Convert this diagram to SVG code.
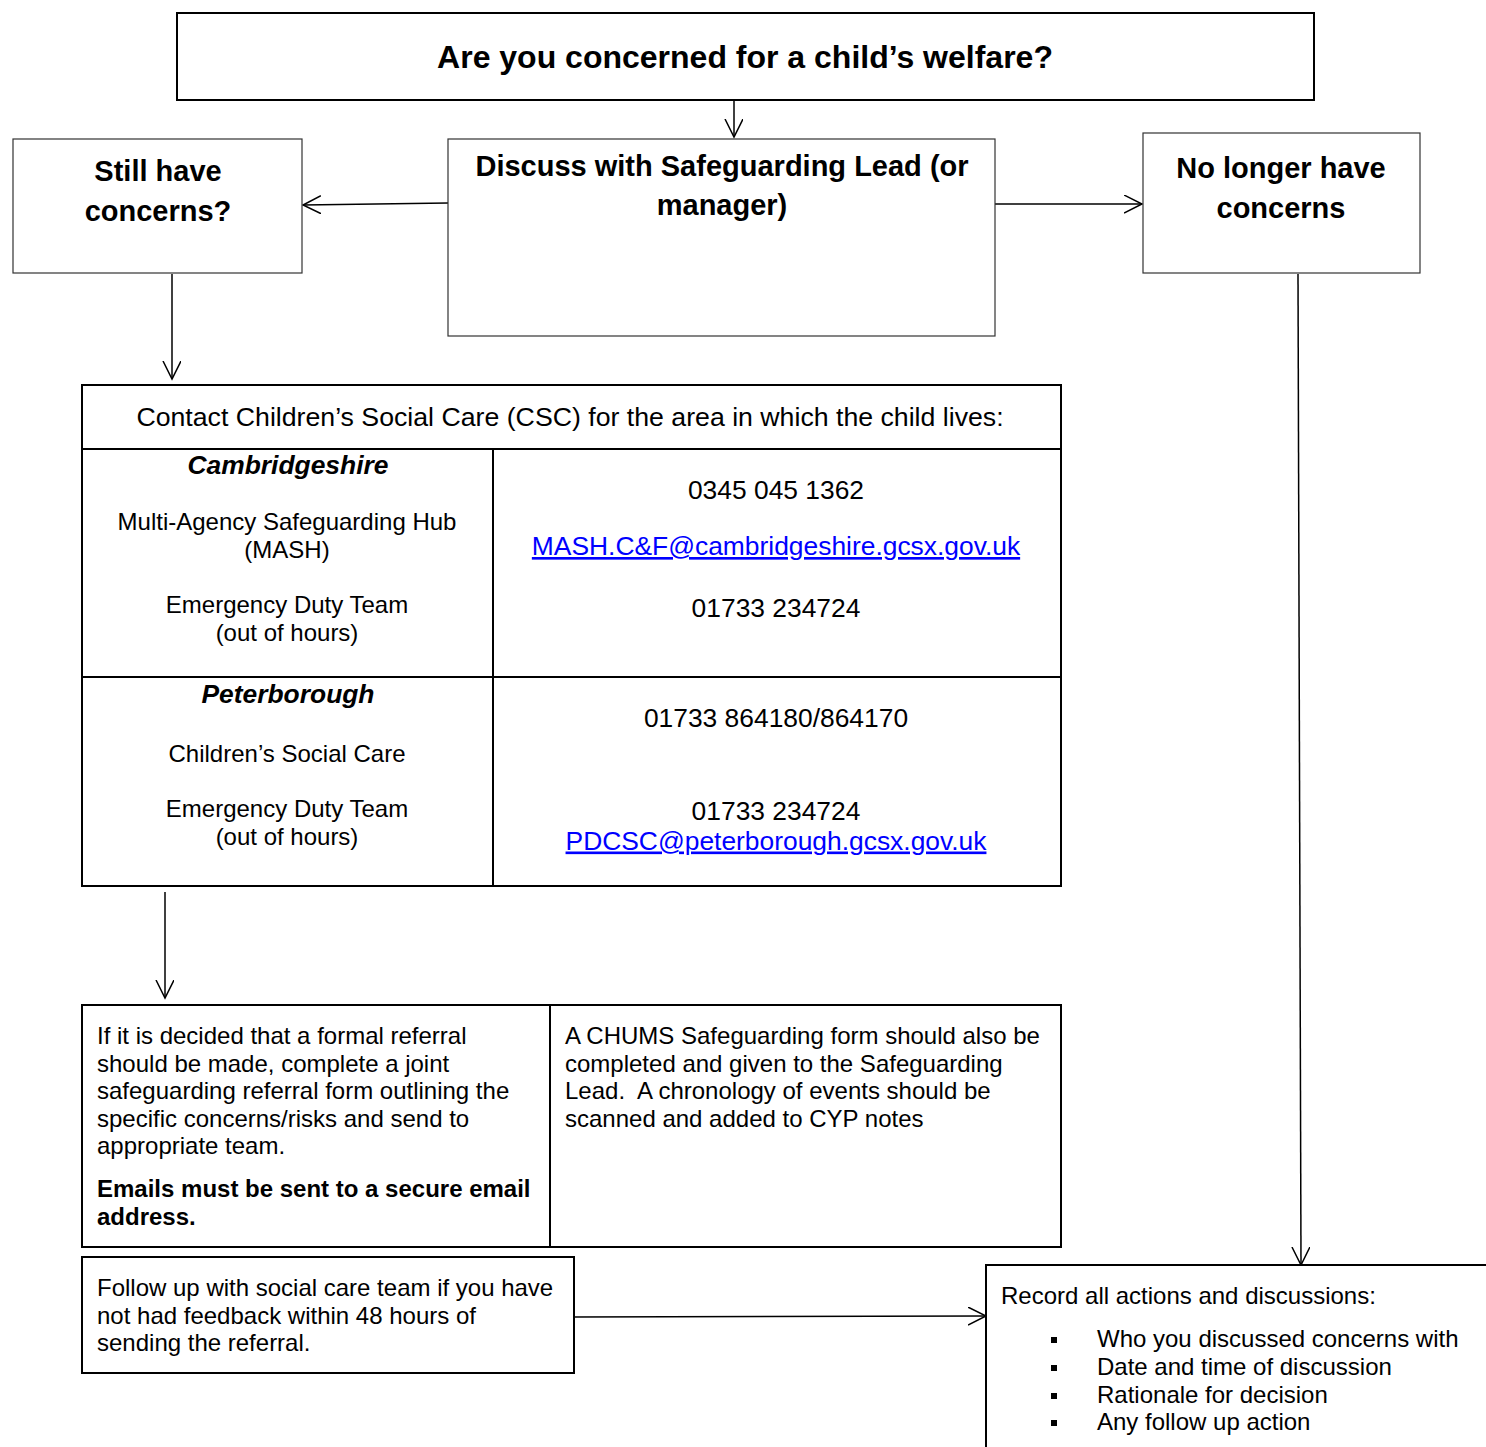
<svg xmlns="http://www.w3.org/2000/svg" width="1486" height="1447" viewBox="0 0 1486 1447">
<style>
text{font-family:"Liberation Sans",Arial,sans-serif;fill:#000}
.t{font-size:32px;font-weight:bold}
.h{font-size:29px;font-weight:bold}
.m{font-size:26.4px}
.hd{font-size:26.7px}
.s{font-size:24px}
.c{text-anchor:middle}
.bi{font-weight:bold;font-style:italic}
.b{font-weight:bold}
.pre{white-space:pre}
.lnk{fill:#0000FF;text-decoration:underline}
.box2{fill:#fff;stroke:#000;stroke-width:2}
.box1{fill:#fff;stroke:#333;stroke-width:1.2}
.ln{stroke:#000;stroke-width:2;fill:none}
.con{stroke:#000;stroke-width:1.5;fill:none;marker-end:url(#arr)}
</style>
<defs>
<marker id="arr" viewBox="0 0 20 20" refX="18" refY="9" markerWidth="20" markerHeight="20" markerUnits="userSpaceOnUse" orient="auto">
<path d="M0,0 L18,9 L0,18" fill="none" stroke="#000" stroke-width="1.5"/>
</marker>
</defs>
<rect width="1486" height="1447" fill="#fff"/>

<g id="connectors">
<line class="con" x1="734" y1="101" x2="734" y2="137"/>
<line class="con" x1="448" y1="203" x2="303" y2="205"/>
<line class="con" x1="995" y1="204" x2="1142" y2="204"/>
<line class="con" x1="172" y1="274" x2="172" y2="379"/>
<line class="con" x1="165" y1="892" x2="165" y2="998"/>
<line class="con" x1="572" y1="1317" x2="986" y2="1316"/>
<line class="con" x1="1298" y1="274" x2="1301" y2="1265"/>
</g>

<g id="question">
<rect class="box2" x="177" y="13" width="1137" height="87"/>
<text class="t c" x="745" y="68">Are you concerned for a child’s welfare?</text>
</g>

<g id="still-concerns">
<rect class="box1" x="13" y="139" width="289" height="134"/>
<text class="h c" x="158" y="181">Still have</text>
<text class="h c" x="158" y="221">concerns?</text>
</g>

<g id="discuss">
<rect class="box1" x="448" y="139" width="547" height="197"/>
<text class="h c" x="722" y="176">Discuss with Safeguarding Lead (or</text>
<text class="h c" x="722" y="215">manager)</text>
</g>

<g id="no-longer">
<rect class="box1" x="1143" y="133" width="277" height="140"/>
<text class="h c" x="1281" y="178">No longer have</text>
<text class="h c" x="1281" y="218">concerns</text>
</g>

<g id="contact-table">
<rect class="box2" x="82" y="385" width="979" height="501"/>
<line class="ln" x1="82" y1="449" x2="1061" y2="449"/>
<line class="ln" x1="82" y1="677" x2="1061" y2="677"/>
<line class="ln" x1="493" y1="449" x2="493" y2="886"/>
<text class="hd c" x="570" y="426">Contact Children’s Social Care (CSC) for the area in which the child lives:</text>
<text class="m c bi" x="288" y="473.5">Cambridgeshire</text>
<text class="s c" x="287" y="530">Multi-Agency Safeguarding Hub</text>
<text class="s c" x="287" y="557.5">(MASH)</text>
<text class="s c" x="287" y="613">Emergency Duty Team</text>
<text class="s c" x="287" y="641">(out of hours)</text>
<text class="m c" x="776" y="499">0345 045 1362</text>
<text class="m c lnk" x="776" y="555">MASH.C&amp;F@cambridgeshire.gcsx.gov.uk</text>
<text class="m c" x="776" y="616.5">01733 234724</text>
<text class="m c bi" x="288" y="702.5">Peterborough</text>
<text class="s c" x="287" y="762">Children’s Social Care</text>
<text class="s c" x="287" y="817">Emergency Duty Team</text>
<text class="s c" x="287" y="845">(out of hours)</text>
<text class="m c" x="776" y="726.5">01733 864180/864170</text>
<text class="m c" x="776" y="819.5">01733 234724</text>
<text class="m c lnk" x="776" y="849.5">PDCSC@peterborough.gcsx.gov.uk</text>
</g>

<g id="referral">
<rect class="box2" x="82" y="1005" width="979" height="242"/>
<line class="ln" x1="550" y1="1005" x2="550" y2="1247"/>
<text class="s" x="97" y="1044">If it is decided that a formal referral</text>
<text class="s" x="97" y="1072">should be made, complete a joint</text>
<text class="s" x="97" y="1099">safeguarding referral form outlining the</text>
<text class="s" x="97" y="1127">specific concerns/risks and send to</text>
<text class="s" x="97" y="1154">appropriate team.</text>
<text class="s b" x="97" y="1197">Emails must be sent to a secure email</text>
<text class="s b" x="97" y="1225">address.</text>
</g>

<g id="chums">
<text class="s" x="565" y="1044">A CHUMS Safeguarding form should also be</text>
<text class="s" x="565" y="1072">completed and given to the Safeguarding</text>
<text class="s pre" x="565" y="1099" xml:space="preserve">Lead.  A chronology of events should be</text>
<text class="s" x="565" y="1127">scanned and added to CYP notes</text>
</g>

<g id="follow-up">
<rect class="box2" x="82" y="1257" width="492" height="116"/>
<text class="s" x="97" y="1296">Follow up with social care team if you have</text>
<text class="s" x="97" y="1324">not had feedback within 48 hours of</text>
<text class="s" x="97" y="1351">sending the referral.</text>
</g>

<g id="record">
<rect class="box2" x="986" y="1265" width="540" height="220"/>
<text class="s" x="1001" y="1304">Record all actions and discussions:</text>
<rect x="1051" y="1337" width="6" height="6" fill="#000"/>
<rect x="1051" y="1365" width="6" height="6" fill="#000"/>
<rect x="1051" y="1393" width="6" height="6" fill="#000"/>
<rect x="1051" y="1420" width="6" height="6" fill="#000"/>
<text class="s" x="1097" y="1347">Who you discussed concerns with</text>
<text class="s" x="1097" y="1375">Date and time of discussion</text>
<text class="s" x="1097" y="1403">Rationale for decision</text>
<text class="s" x="1097" y="1430">Any follow up action</text>
</g>
</svg>
